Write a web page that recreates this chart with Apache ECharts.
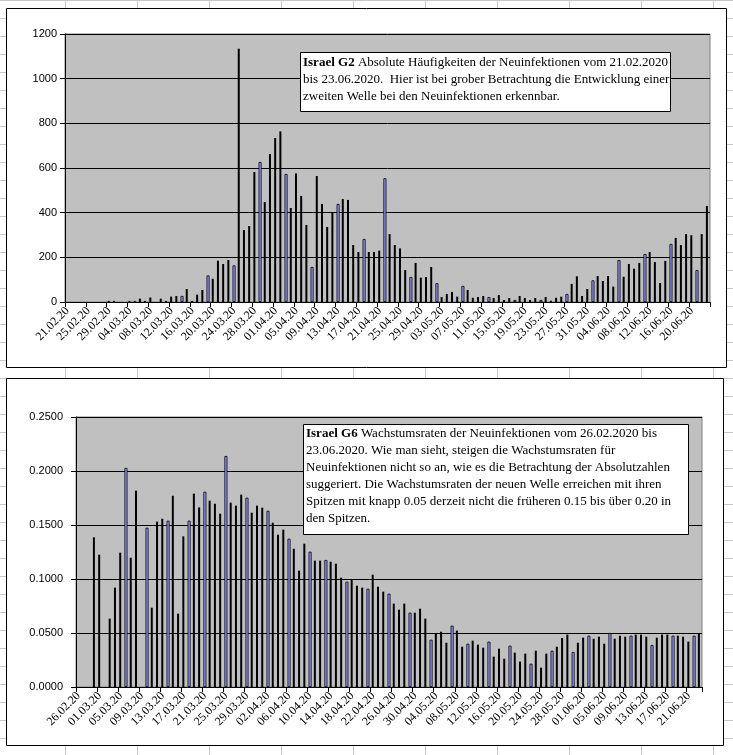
<!DOCTYPE html>
<html><head><meta charset="utf-8">
<script src="https://cdn.jsdelivr.net/npm/echarts@6.0.0/dist/echarts.min.js"></script>
<style>html,body{margin:0;padding:0;background:#fff}#c{width:733px;height:755px}</style>
</head><body><div id="c"></div><script>
// ---------- DATA ----------
function days(month, from, to) { const out = []; for (let d = from; d <= to; d++) out.push(String(d).padStart(2,'0') + '.' + month + '.20'); return out; }
// G2: 21.02.20 .. 23.06.20
const topCategories = [...days('02',21,29), ...days('03',1,31), ...days('04',1,30), ...days('05',1,31), ...days('06',1,23)];
// G6: 26.02.20 .. 23.06.20
const bottomCategories = [...days('02',26,29), ...days('03',1,31), ...days('04',1,30), ...days('05',1,31), ...days('06',1,23)];

// Absolute new infections (G2)
const newInfections = [
  0,0,0,0,0,0,0,0,5,5,
  0,0,5,5,15,5,20,0,15,5,
  24,27,27,58,5,33,54,119,104,185,
  170,188,164,1134,322,340,582,627,448,663,
  734,764,573,421,576,475,345,157,564,439,
  336,403,439,461,457,255,224,282,224,224,
  230,554,304,255,240,143,112,175,109,112,
  157,84,22,36,45,24,72,54,19,22,
  27,22,18,31,9,18,9,27,18,9,
  18,9,22,6,19,24,36,81,115,27,
  58,97,116,94,116,69,188,113,170,149,
  175,215,224,179,85,184,260,287,255,304,
  299,143,304,430
];
// Growth rates of new infections (G6)
const growthRates = [
  0,0,0,0.1386,0.1225,0,0.0633,0.0920,0.1244,0.2028,
  0.1197,0.1818,0,0.1475,0.0734,0.1531,0.1558,0.1540,0.1771,0.0679,
  0.1395,0.1540,0.1790,0.1663,0.1808,0.1725,0.1697,0.1605,0.2139,0.1707,
  0.1679,0.1781,0.1753,0.1614,0.1679,0.1660,0.1632,0.1521,0.1410,0.1457,
  0.1373,0.1280,0.1077,0.1327,0.1253,0.1170,0.1170,0.1176,0.1160,0.1142,
  0.1012,0.0975,0.0994,0.0938,0.0920,0.0910,0.1040,0.0929,0.0883,0.0864,
  0.0772,0.0716,0.0772,0.0688,0.0688,0.0725,0.0633,0.0438,0.0500,0.0512,
  0.0410,0.0568,0.0522,0.0373,0.0401,0.0429,0.0392,0.0364,0.0420,0.0281,
  0.0355,0.0262,0.0383,0.0318,0.0235,0.0309,0.0216,0.0336,0.0179,0.0309,
  0.0336,0.0373,0.0454,0.0485,0.0324,0.0410,0.0457,0.0475,0.0447,0.0466,
  0.0401,0.0500,0.0447,0.0475,0.0466,0.0475,0.0485,0.0485,0.0466,0.0389,
  0.0457,0.0485,0.0485,0.0475,0.0475,0.0466,0.0420,0.0475,0.0500
];
const topTicks = [0,200,400,600,800,1000,1200];
const bottomTicks = [0,0.05,0.10,0.15,0.20,0.25];

const topNote = '{b|Israel G2} Absolute Häufigkeiten der Neuinfektionen vom 21.02.2020\nbis 23.06.2020.  Hier ist bei grober Betrachtung die Entwicklung einer\nzweiten Welle bei den Neuinfektionen erkennbar.';
const bottomNote = '{b|Israel G6} Wachstumsraten der Neuinfektionen vom 26.02.2020 bis\n23.06.2020. Wie man sieht, steigen die Wachstumsraten für\nNeuinfektionen nicht so an, wie es die Betrachtung der Absolutzahlen\nsuggeriert. Die Wachstumsraten der neuen Welle erreichen mit ihren\nSpitzen mit knapp 0.05 derzeit nicht die früheren 0.15 bis über 0.20 in\nden Spitzen.';

// ---------- STYLE ----------
// bars that show their lavender fill in the screenshot (pixel-rounding artefact of the original)
const topFilled = [22,27,32,37,42,47,52,57,61,66,71,76,81,86,91,96,101,106,111,116,121];
const bottomFilled = [9,13,17,21,24,28,32,36,40,44,47,51,55,59,63,67,71,74,78,82,86,90,94,97,101,105,109,113,117];
function split(values, filled) {
  const s = new Set(filled);
  return { dark: values.map((v,i) => s.has(i) ? null : v), light: values.map((v,i) => s.has(i) ? v : null) };
}
const topSplit = split(newInfections, topFilled);
const botSplit = split(growthRates, bottomFilled);

const SERIF = '"Liberation Serif","Times New Roman",serif';
const SANS = '"Liberation Sans",Arial,sans-serif';

const bg = [];
for (let x = -6.5; x < 740; x += 72) bg.push({type:'line', z:-100, shape:{x1:x,y1:0,x2:x,y2:755}, style:{stroke:'#c8c8c8', lineWidth:1}});
for (let y = 0.5; y < 760; y += 18) bg.push({type:'line', z:-100, shape:{x1:0,y1:y,x2:733,y2:y}, style:{stroke:'#c8c8c8', lineWidth:1}});
bg.push({type:'rect', z:-50, shape:{x:6.5,y:8.5,width:720,height:359}, style:{fill:'#fff', stroke:'#000', lineWidth:1}});
bg.push({type:'rect', z:-50, shape:{x:6.5,y:378.5,width:717,height:367}, style:{fill:'#fff', stroke:'#000', lineWidth:1}});
bg.push({type:'rect', z:100, shape:{x:300.5,y:52.5,width:370,height:59}, style:{fill:'#fff', stroke:'#000', lineWidth:1}});
bg.push({type:'text', z:101, x:303, y:54.5, style:{text:topNote, fontFamily:SERIF, fontSize:13, lineHeight:16.7, fill:'#000', textVerticalAlign:'top',
  rich:{b:{fontWeight:'bold', fontFamily:SERIF, fontSize:13, lineHeight:16.7, fill:'#000'}}}});
bg.push({type:'rect', z:100, shape:{x:303.5,y:424.5,width:385,height:110}, style:{fill:'#fff', stroke:'#000', lineWidth:1}});
bg.push({type:'text', z:101, x:306, y:425, style:{text:bottomNote, fontFamily:SERIF, fontSize:13, lineHeight:17.1, fill:'#000', textVerticalAlign:'top',
  rich:{b:{fontWeight:'bold', fontFamily:SERIF, fontSize:13, lineHeight:17.1, fill:'#000'}}}});

function xAxis(gridIndex, cats) {
  return { type:'category', gridIndex, data:cats, boundaryGap:true,
    axisLine:{show:true, lineStyle:{color:'#000', width:1}},
    axisTick:{show:true, interval:3, length:5, lineStyle:{color:'#000'}},
    axisLabel:{interval:3, rotate:45, margin:7, fontFamily:SERIF, fontSize:12, color:'#000'},
    splitLine:{show:false} };
}
function yAxis(gridIndex, max, interval, fmt, margin) {
  return { type:'value', gridIndex, min:0, max, interval,
    axisLine:{show:true, lineStyle:{color:'#000', width:1}},
    axisTick:{show:true, length:5, lineStyle:{color:'#000'}},
    axisLabel:{margin, fontFamily:SANS, fontSize:11, color:'#000', formatter:fmt},
    splitLine:{show:true, lineStyle:{color:'#000', width:1}} };
}
function bars(xi, yi, dark, light) {
  return [
    {type:'bar', xAxisIndex:xi, yAxisIndex:yi, data:dark, barWidth:2, barGap:'-100%', itemStyle:{color:'#000'}, animation:false, silent:true},
    {type:'bar', xAxisIndex:xi, yAxisIndex:yi, data:light, barWidth:3, barGap:'-100%', itemStyle:{color:'#9999ff', borderColor:'#000', borderWidth:0.8}, animation:false, silent:true}
  ];
}

const option = {
  backgroundColor:'#fff',
  animation:false,
  graphic:{elements:bg},
  grid:[
    {left:65, top:34, width:645, height:268, show:true, backgroundColor:'#c0c0c0', borderColor:'#808080', borderWidth:1},
    {left:76, top:417, width:626, height:270, show:true, backgroundColor:'#c0c0c0', borderColor:'#808080', borderWidth:1}
  ],
  xAxis:[ xAxis(0, topCategories), xAxis(1, bottomCategories) ],
  yAxis:[
    yAxis(0, topTicks[topTicks.length-1], topTicks[1]-topTicks[0], v => String(v), 8),
    yAxis(1, bottomTicks[bottomTicks.length-1], bottomTicks[1]-bottomTicks[0], v => v.toFixed(4), 13)
  ],
  series:[ ...bars(0,0,topSplit.dark,topSplit.light), ...bars(1,1,botSplit.dark,botSplit.light) ]
};
const chart = echarts.init(document.getElementById('c'));
chart.setOption(option);
</script></body></html>
